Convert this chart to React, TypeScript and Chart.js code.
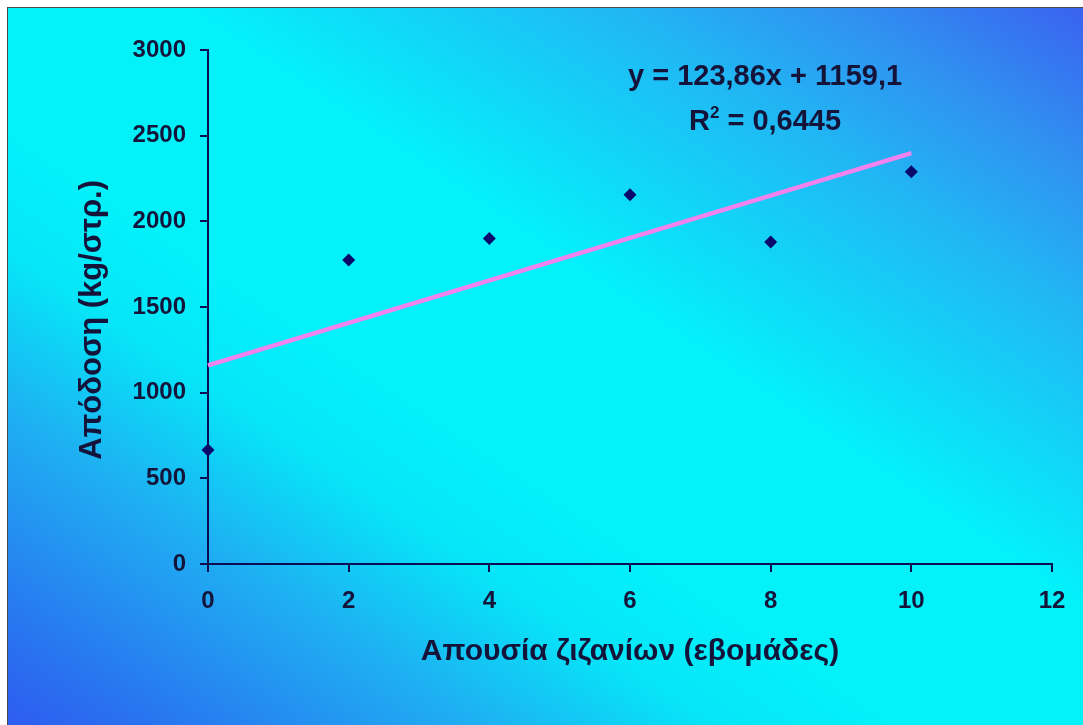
import React, { useEffect, useRef } from "react";
import { Chart, registerables } from "chart.js";

Chart.register(...registerables);

// ---- data ----
const weeks = [0, 2, 4, 6, 8, 10];
const yieldKg = [665, 1775, 1900, 2155, 1880, 2290];

const trendSlope = 123.86;
const trendIntercept = 1159.1;
const trendX = [0, 10];

const equationText = "y = 123,86x + 1159,1";
const r2Label = "R";
const r2Sup = "2";
const r2Value = " = 0,6445";

const xTitle = "Απουσία ζιζανίων (εβομάδες)";
const yTitle = "Απόδοση (kg/στρ.)";

const xMin = 0;
const xMax = 12;
const xStep = 2;
const yMin = 0;
const yMax = 3000;
const yStep = 500;

// ---- styles ----
const FONT = '"Liberation Sans", Arial, sans-serif';
const TEXT = "#14143a";
const AXIS = "#0c0c55";
const POINT = "#0a0a6a";
const TREND = "#f282ee";

const eqPlugin = {
  id: "equationText",
  afterDatasetsDraw(chart: any) {
    const { ctx, scales } = chart;
    const xs = scales.x;
    const ys = scales.y;
    const cx = xs.getPixelForValue(7.92);
    const b1 = ys.getPixelForValue(2796);
    const b2 = ys.getPixelForValue(2533);
    const big = `bold 29px ${FONT}`;
    const small = `bold 17px ${FONT}`;
    ctx.save();
    ctx.fillStyle = TEXT;
    ctx.textBaseline = "alphabetic";
    ctx.font = big;
    ctx.textAlign = "center";
    ctx.fillText(equationText, cx, b1);

    ctx.textAlign = "left";
    const wR = ctx.measureText(r2Label).width;
    const wV = ctx.measureText(r2Value).width;
    ctx.font = small;
    const wS = ctx.measureText(r2Sup).width;
    const total = wR + wS + wV;
    let px = cx - total / 2;
    ctx.font = big;
    ctx.fillText(r2Label, px, b2);
    px += wR;
    ctx.font = small;
    ctx.fillText(r2Sup, px, b2 - 12);
    px += wS;
    ctx.font = big;
    ctx.fillText(r2Value, px, b2);
    ctx.restore();
  },
};

export default function App() {
  const canvasRef = useRef<HTMLCanvasElement | null>(null);

  useEffect(() => {
    if (!canvasRef.current) return;
    const points = weeks.map((w, i) => ({ x: w, y: yieldKg[i] }));
    const trend = trendX.map((x) => ({ x, y: trendSlope * x + trendIntercept }));

    const chart = new Chart(canvasRef.current, {
      type: "scatter",
      data: {
        datasets: [
          {
            type: "scatter",
            data: points,
            pointStyle: "rectRot",
            pointRadius: 6.5,
            pointBackgroundColor: POINT,
            pointBorderColor: POINT,
            pointBorderWidth: 0,
            clip: false,
            order: 1,
          } as any,
          {
            type: "line",
            data: trend,
            borderColor: TREND,
            borderWidth: 4.5,
            pointRadius: 0,
            fill: false,
            clip: false,
            order: 0,
          } as any,
        ],
      },
      options: {
        animation: false,
        responsive: false,
        maintainAspectRatio: false,
        events: [],
        layout: { padding: { left: 0, right: 31, top: 42, bottom: 0 } },
        plugins: {
          legend: { display: false },
          tooltip: { enabled: false },
        },
        scales: {
          x: {
            type: "linear",
            min: xMin,
            max: xMax,
            afterFit: (s: any) => {
              s.height = 161;
            },
            ticks: {
              stepSize: xStep,
              color: TEXT,
              padding: 15,
              callback: (v: any) => String(v),
              font: { family: FONT, size: 24, weight: "bold" },
            },
            grid: {
              display: true,
              drawOnChartArea: false,
              drawTicks: true,
              tickLength: 8,
              color: AXIS,
              lineWidth: 2,
            },
            border: { display: true, color: AXIS, width: 2 },
            title: {
              display: true,
              text: xTitle,
              color: TEXT,
              font: { family: FONT, size: 30, weight: "bold" },
              padding: { top: 0, bottom: 55 },
            },
          },
          y: {
            type: "linear",
            min: yMin,
            max: yMax,
            afterFit: (s: any) => {
              s.width = 200;
            },
            ticks: {
              stepSize: yStep,
              color: TEXT,
              padding: 14,
              callback: (v: any) => String(v),
              font: { family: FONT, size: 24, weight: "bold" },
            },
            grid: {
              display: true,
              drawOnChartArea: false,
              drawTicks: true,
              tickLength: 8,
              color: AXIS,
              lineWidth: 2,
            },
            border: { display: true, color: AXIS, width: 2 },
            title: {
              display: true,
              text: yTitle + "\u00a0\u00a0\u00a0",
              color: TEXT,
              font: { family: FONT, size: 31, weight: "bold" },
              padding: { top: 66, bottom: 0 },
            },
          },
        },
      },
      plugins: [eqPlugin],
    } as any);

    return () => chart.destroy();
  }, []);

  return (
    <div
      style={{
        position: "absolute",
        left: 7,
        top: 7,
        width: 1076,
        height: 718,
        boxSizing: "border-box",
        borderLeft: "1px solid #4a4a4a",
        borderTop: "1px solid #4a4a4a",
        background:
          "linear-gradient(to top right, #2e5cf0 0%, #2878f0 8%, #1eb0f2 22%, #06e6f8 33%, #03f2fa 42%, #03f2fa 58%, #10d8f8 67%, #20b8f4 78%, #3090f0 89%, #3a62f0 100%)",
      }}
    >
      <canvas ref={canvasRef} width={1075} height={717} style={{ display: "block" }} />
    </div>
  );
}
